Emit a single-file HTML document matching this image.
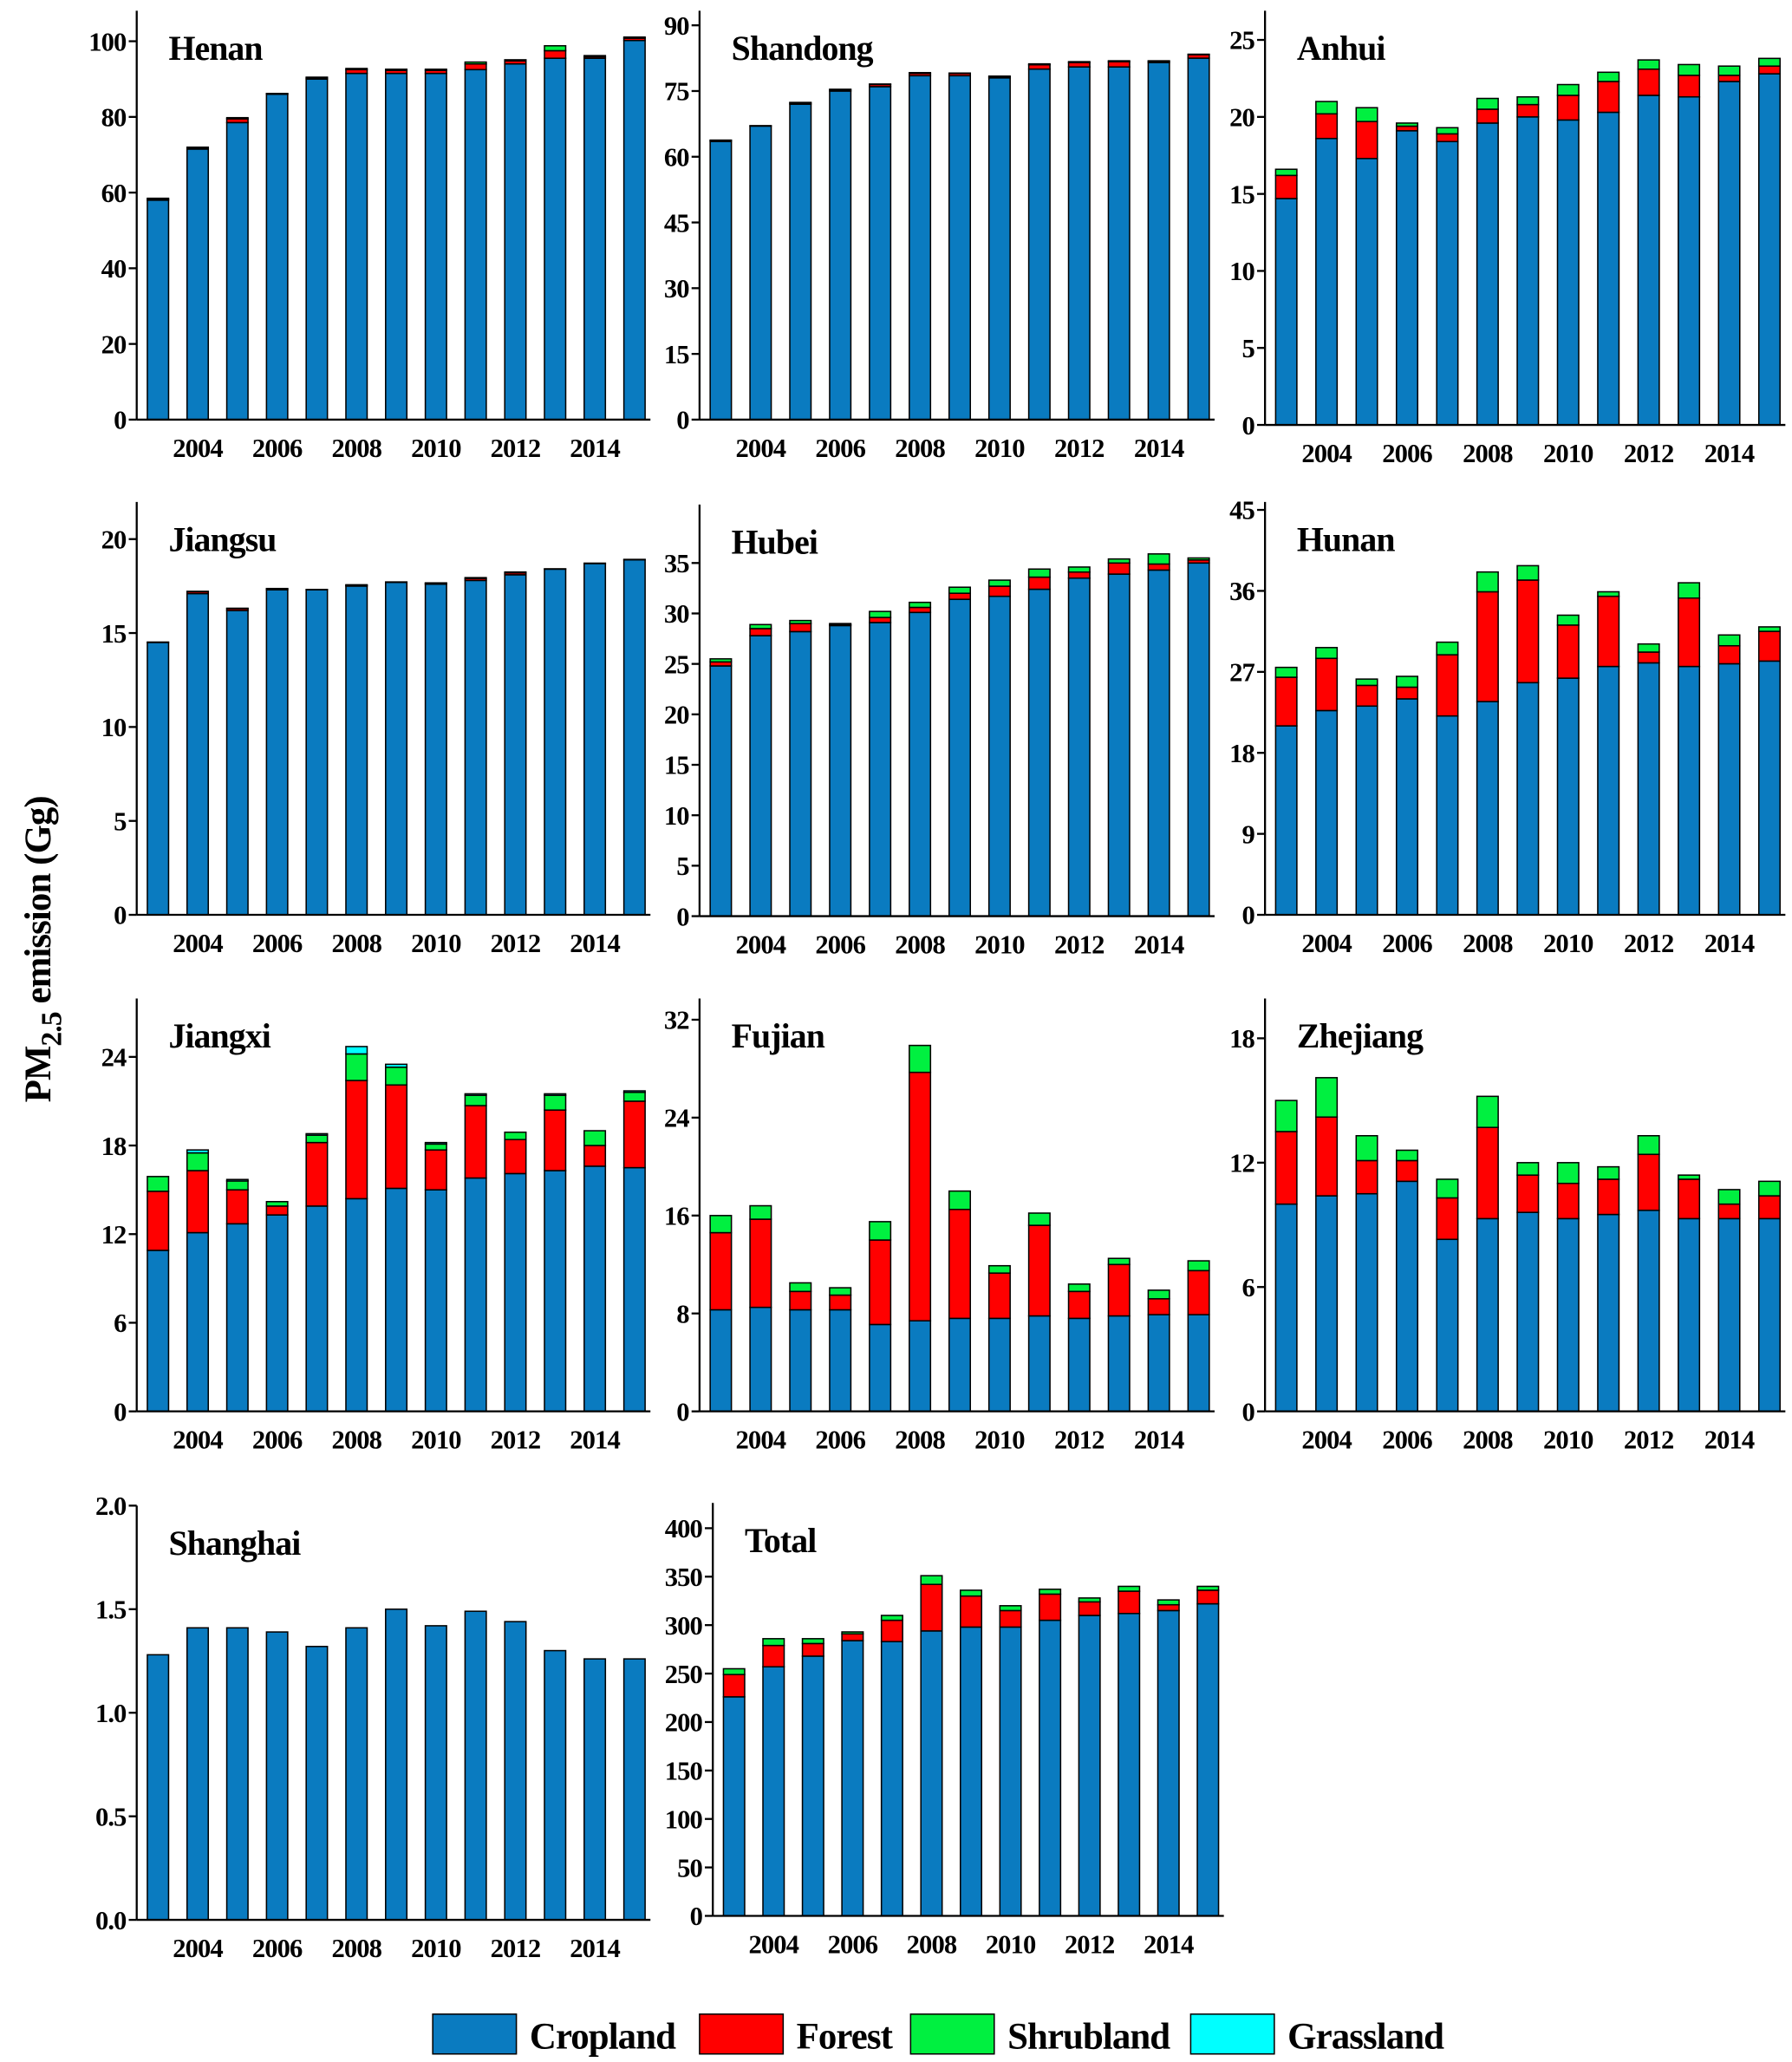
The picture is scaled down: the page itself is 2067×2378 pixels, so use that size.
<!DOCTYPE html>
<html><head><meta charset="utf-8"><style>
html,body{margin:0;padding:0;background:#fff}
svg{display:block}
text{font-family:"Liberation Serif",serif;font-weight:bold;fill:#000;letter-spacing:-0.6px}
</style></head><body>
<svg id="c" width="2067" height="2378" viewBox="0 0 1350 1553" xmlns="http://www.w3.org/2000/svg"></svg>
<script>
const years=[2003,2004,2005,2006,2007,2008,2009,2010,2011,2012,2013,2014,2015];
const henanCrop=[58,71.5,78.5,86,90,91.5,91.5,91.5,92.5,94,95.5,95.5,100.2];
const henanForest=[0.3,0.3,1,0.1,0.3,1,0.8,0.8,1.5,0.8,2,0.4,0.6];
const henanShrub=[0.2,0.2,0.3,0.1,0.2,0.3,0.3,0.3,0.5,0.3,1.3,0.3,0.3];
const shandongCrop=[63.5,67,72,75,76,78.5,78.5,78,80,80.5,80.5,81.5,82.5];
const shandongForest=[0.2,0.1,0.3,0.3,0.5,0.5,0.5,0.3,1,1,1.2,0.3,0.8];
const shandongShrub=[0.1,0,0.1,0.1,0.1,0.2,0.1,0.1,0.2,0.2,0.2,0.1,0.1];
const anhuiCrop=[14.7,18.6,17.3,19.1,18.4,19.6,20,19.8,20.3,21.4,21.3,22.3,22.8];
const anhuiForest=[1.5,1.6,2.4,0.3,0.5,0.9,0.8,1.6,2,1.7,1.4,0.4,0.5];
const anhuiShrub=[0.4,0.8,0.9,0.2,0.4,0.7,0.5,0.7,0.6,0.6,0.7,0.6,0.5];
const jiangsuCrop=[14.5,17.1,16.2,17.3,17.3,17.5,17.7,17.6,17.8,18.1,18.4,18.7,18.9];
const jiangsuForest=[0.02,0.1,0.1,0.05,0.02,0.05,0.02,0.05,0.1,0.1,0.02,0.02,0.02];
const jiangsuShrub=[0,0.02,0.02,0.02,0,0.02,0,0.02,0.05,0.05,0,0,0];
const hubeiCrop=[24.8,27.8,28.2,28.8,29.1,30.1,31.4,31.7,32.4,33.5,33.9,34.3,35];
const hubeiForest=[0.4,0.7,0.8,0.1,0.5,0.5,0.6,1,1.2,0.6,1.1,0.6,0.3];
const hubeiShrub=[0.3,0.4,0.3,0.1,0.6,0.5,0.6,0.6,0.8,0.5,0.4,1,0.2];
const hunanCrop=[21,22.7,23.2,24,22.1,23.7,25.8,26.3,27.6,28,27.6,27.9,28.2];
const hunanForest=[5.4,5.8,2.3,1.3,6.8,12.2,11.4,5.9,7.8,1.2,7.6,2,3.3];
const hunanShrub=[1.1,1.2,0.7,1.2,1.4,2.2,1.6,1.1,0.5,0.9,1.7,1.2,0.5];
const jiangxiCrop=[10.9,12.1,12.7,13.3,13.9,14.4,15.1,15,15.8,16.1,16.3,16.6,16.5];
const jiangxiForest=[4,4.2,2.3,0.6,4.3,8,7,2.7,4.9,2.3,4.1,1.4,4.5];
const jiangxiShrub=[1,1.2,0.6,0.3,0.5,1.8,1.2,0.4,0.7,0.5,1,1,0.6];
const jiangxiGrass=[0,0.2,0.1,0,0.1,0.5,0.2,0.1,0.1,0,0.1,0,0.1];
const fujianCrop=[8.3,8.5,8.3,8.3,7.1,7.4,7.6,7.6,7.8,7.6,7.8,7.9,7.9];
const fujianForest=[6.3,7.2,1.5,1.2,6.9,20.3,8.9,3.7,7.4,2.2,4.2,1.3,3.6];
const fujianShrub=[1.4,1.1,0.7,0.6,1.5,2.2,1.5,0.6,1,0.6,0.5,0.7,0.8];
const zhejiangCrop=[10,10.4,10.5,11.1,8.3,9.3,9.6,9.3,9.5,9.7,9.3,9.3,9.3];
const zhejiangForest=[3.5,3.8,1.6,1,2,4.4,1.8,1.7,1.7,2.7,1.9,0.7,1.1];
const zhejiangShrub=[1.5,1.9,1.2,0.5,0.9,1.5,0.6,1,0.6,0.9,0.2,0.7,0.7];
const shanghaiCrop=[1.28,1.41,1.41,1.39,1.32,1.41,1.50,1.42,1.49,1.44,1.30,1.26,1.26];
const totalCrop=[226,257,268,284,283,294,298,298,305,310,312,315,322];
const totalForest=[23,22,13,7,22,48,32,17,27,14,23,6,14];
const totalShrub=[6,7,5,2,5,9,6,5,5,4,5,5,4];
const henanTicks=[0,20,40,60,80,100];
const shandongTicks=[0,15,30,45,60,75,90];
const anhuiTicks=[0,5,10,15,20,25];
const jiangsuTicks=[0,5,10,15,20];
const hubeiTicks=[0,5,10,15,20,25,30,35];
const hunanTicks=[0,9,18,27,36,45];
const jiangxiTicks=[0,6,12,18,24];
const fujianTicks=[0,8,16,24,32];
const zhejiangTicks=[0,6,12,18];
const shanghaiTicks=["0.0","0.5","1.0","1.5","2.0"];
const totalTicks=[0,50,100,150,200,250,300,350,400];
const colors=["#0a7bc0","#ff0000","#00f040","#00ffff"];
const seriesNames=["Cropland","Forest","Shrubland","Grassland"];

const svg=document.getElementById('c');
const NS="http://www.w3.org/2000/svg";
function mk(tag,attrs,parent){const e=document.createElementNS(NS,tag);for(const k in attrs)e.setAttribute(k,attrs[k]);(parent||svg).appendChild(e);return e;}

const panels=[
 {id:"henan",title:"Henan",ax:103,xe:490,base:316,top:8,vmax:100,pmax:31,ticks:henanTicks,series:[henanCrop,henanForest,henanShrub]},
 {id:"shandong",title:"Shandong",ax:527,xe:915,base:316,top:8,vmax:90,pmax:19,ticks:shandongTicks,series:[shandongCrop,shandongForest,shandongShrub]},
 {id:"anhui",title:"Anhui",ax:953,xe:1345,base:320,top:8,vmax:25,pmax:30,ticks:anhuiTicks,series:[anhuiCrop,anhuiForest,anhuiShrub]},
 {id:"jiangsu",title:"Jiangsu",ax:103,xe:490,base:689,top:378,vmax:20,pmax:406,ticks:jiangsuTicks,series:[jiangsuCrop,jiangsuForest,jiangsuShrub]},
 {id:"hubei",title:"Hubei",ax:527,xe:915,base:690,top:380,vmax:35,pmax:424,ticks:hubeiTicks,series:[hubeiCrop,hubeiForest,hubeiShrub]},
 {id:"hunan",title:"Hunan",ax:953,xe:1345,base:689,top:378,vmax:45,pmax:384,ticks:hunanTicks,series:[hunanCrop,hunanForest,hunanShrub]},
 {id:"jiangxi",title:"Jiangxi",ax:103,xe:490,base:1063,top:752,vmax:24,pmax:796,ticks:jiangxiTicks,series:[jiangxiCrop,jiangxiForest,jiangxiShrub,jiangxiGrass]},
 {id:"fujian",title:"Fujian",ax:527,xe:915,base:1063,top:752,vmax:32,pmax:768,ticks:fujianTicks,series:[fujianCrop,fujianForest,fujianShrub]},
 {id:"zhejiang",title:"Zhejiang",ax:953,xe:1345,base:1063,top:752,vmax:18,pmax:782,ticks:zhejiangTicks,series:[zhejiangCrop,zhejiangForest,zhejiangShrub]},
 {id:"shanghai",title:"Shanghai",ax:103,xe:490,base:1446,top:1134,vmax:2,pmax:1134,ticks:shanghaiTicks,series:[shanghaiCrop]},
 {id:"total",title:"Total",ax:537,xe:922,base:1443,top:1132,vmax:400,pmax:1151,ticks:totalTicks,series:[totalCrop,totalForest,totalShrub]}
];

panels.forEach(p=>{
 const g=mk('g',{});
 
 
 const y=v=>p.base-(v/p.vmax)*(p.base-p.pmax);
 const x=i=>p.ax+16+i*((p.xe-p.ax-28)/12);
 const bw=16;
 years.forEach((yr,i)=>{
  let acc=0;
  p.series.forEach((s,k)=>{
   const v=s[i];if(!v)return;
   const r=mk('rect',{x:x(i)-bw/2,y:y(acc+v),width:bw,height:Math.max(0,y(acc)-y(acc+v)),fill:colors[k],stroke:"#000","stroke-width":1},g);
   
   
   acc+=v;
  });
  if(yr%2===0){
   const t=mk('text',{x:x(i),y:p.base+28,"text-anchor":"middle","font-size":20},g);
   t.textContent=yr;
   
   
  }
 });
 const ya=mk('line',{x1:p.ax,y1:p.top,x2:p.ax,y2:p.base,stroke:"#000","stroke-width":1.5},g);
 
 
 const xa=mk('line',{x1:p.ax,y1:p.base,x2:p.xe,y2:p.base,stroke:"#000","stroke-width":1.5},g);
 
 
 p.ticks.forEach(tv=>{
  const v=parseFloat(tv);
  mk('line',{x1:p.ax-6,y1:y(v),x2:p.ax,y2:y(v),stroke:"#000","stroke-width":1.5},g);
  const t=mk('text',{x:p.ax-8,y:y(v)+7,"text-anchor":"end","font-size":20},g);
  t.textContent=tv;
  
  
 });
 const tt=mk('text',{x:p.ax+24,y:p.top+37,"font-size":26},g);
 tt.textContent=p.title;
 
 
});

const yt=mk('text',{transform:"translate(38,715) rotate(-90)","text-anchor":"middle","font-size":28});


yt.innerHTML='PM<tspan dy="8" font-size="22">2.5</tspan><tspan dy="-8"> emission (Gg)</tspan>';

const lx=[326,527,686,897];
seriesNames.forEach((n,k)=>{
 const g=mk('g',{});
 
 
 mk('rect',{x:lx[k],y:1517,width:63,height:30,fill:colors[k],stroke:"#000","stroke-width":1},g);
 const t=mk('text',{x:lx[k]+73,y:1543,"font-size":28},g);
 t.textContent=n;
});
</script>
</body></html>
